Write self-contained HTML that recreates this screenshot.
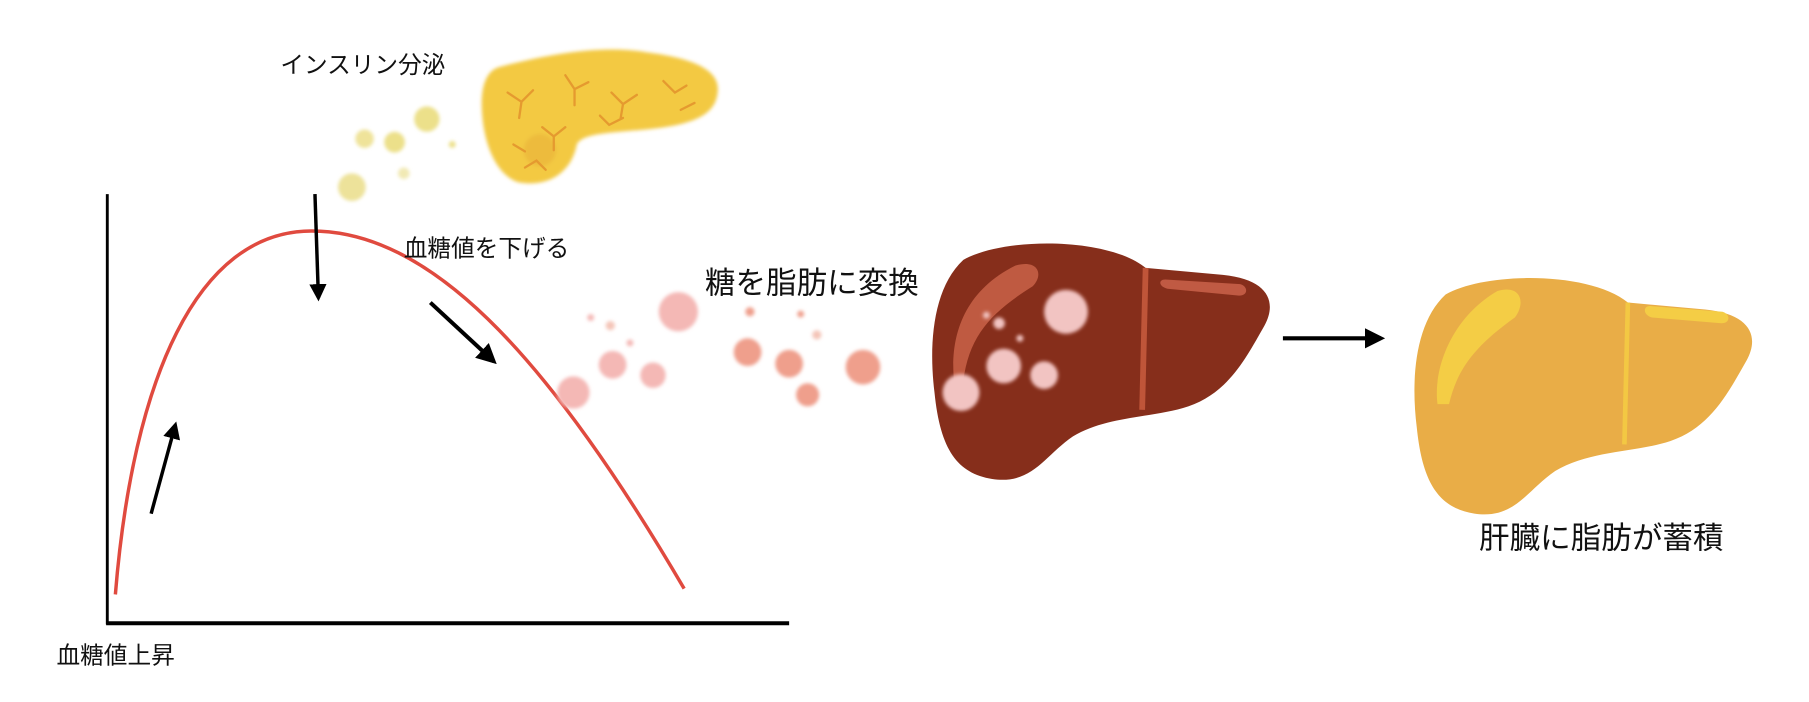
<!DOCTYPE html>
<html><head><meta charset="utf-8"><style>
html,body{margin:0;padding:0;background:#fff;width:1809px;height:702px;overflow:hidden}
svg text{font-family:"Liberation Sans","Noto Sans CJK JP",sans-serif;fill:#111}
</style></head><body>
<svg width="1809" height="702" viewBox="0 0 1568 608" xmlns="http://www.w3.org/2000/svg">
<defs>
<marker id="ah" viewBox="0 0 10 10" refX="8" refY="5" markerWidth="5" markerHeight="5" orient="auto"><path d="M0,0 L10,5 L0,10 z" fill="#000"/></marker>
<filter id="blur"><feGaussianBlur stdDeviation="1.5"/></filter>
</defs>
<rect width="1568" height="608" fill="#fff"/>
<line x1="93" y1="168" x2="93" y2="541" stroke="#000" stroke-width="2.5"/>
<line x1="92" y1="540" x2="684" y2="540" stroke="#000" stroke-width="3.5"/>
<path d="M100,515 C115,330 170,200 270,200 C370,200 470,300 593,510" fill="none" stroke="#e04a3f" stroke-width="3"/>
<line x1="131" y1="445" x2="152" y2="368" stroke="#000" stroke-width="3" marker-end="url(#ah)"/>
<line x1="273" y1="168" x2="276" y2="258" stroke="#000" stroke-width="3" marker-end="url(#ah)"/>
<line x1="373" y1="262" x2="428" y2="313" stroke="#000" stroke-width="3.5" marker-end="url(#ah)"/>
<line x1="1112" y1="293" x2="1197" y2="293" stroke="#000" stroke-width="3.5" marker-end="url(#ah)"/>
<text x="243" y="63" font-size="20.5">インスリン分泌</text>
<text x="350" y="222" font-size="20.5">血糖値を下げる</text>
<text x="611" y="254" font-size="26.5">糖を脂肪に変換</text>
<text x="49" y="575" font-size="20.5">血糖値上昇</text>
<text x="1282" y="475" font-size="26.5">肝臓に脂肪が蓄積</text>
<g filter="url(#blur)">
<path d="M432,58 C470,48 520,38 560,45 C600,50 625,60 622,80 C620,100 600,108 560,112 C530,115 505,115 500,125 C495,150 475,162 450,158 C430,152 420,125 418,100 C416,78 420,62 432,58 Z" fill="#f3c943"/>
<circle cx="468" cy="130" r="14" fill="#e9b33c" opacity="0.6"/>
<circle cx="370" cy="103" r="11" fill="#ece08a"/>
<circle cx="342" cy="123" r="9" fill="#ece08a"/>
<circle cx="316" cy="120" r="8" fill="#efe39a"/>
<circle cx="305" cy="162" r="12" fill="#ede29a"/>
<circle cx="350" cy="150" r="5" fill="#f1e9b4"/>
<circle cx="392" cy="125" r="3" fill="#ece08a"/>
</g>
<g stroke="#e59a2f" stroke-width="2" fill="none" stroke-linecap="round">
<path d="M440,80 l12,8 l10,-10 M452,88 l-2,14"/><path d="M490,65 l8,12 l12,-6 M498,77 l0,14"/>
<path d="M530,80 l10,10 l12,-8 M540,90 l-2,12"/><path d="M575,70 l10,10 l10,-6"/>
<path d="M470,110 l10,8 l10,-8 M480,118 l0,12"/><path d="M520,100 l8,8 l12,-6"/>
<path d="M445,125 l10,6 M455,145 l10,-6 l8,8"/><path d="M590,95 l12,-6"/>
</g>
<g filter="url(#blur)" fill="#f4b8b5">
<circle cx="588" cy="270" r="17"/><circle cx="497" cy="340" r="14"/><circle cx="531" cy="316" r="12"/>
<circle cx="566" cy="325" r="11"/><circle cx="512" cy="275" r="3"/><circle cx="546" cy="297" r="3"/>
<circle cx="648" cy="305" r="12" fill="#ef9f8c"/><circle cx="684" cy="315" r="12" fill="#ef9f8c"/>
<circle cx="700" cy="342" r="10" fill="#ef9f8c"/><circle cx="748" cy="318" r="15" fill="#ef9f8c"/>
<circle cx="650" cy="270" r="4" fill="#ef9f8c"/><circle cx="694" cy="272" r="3" fill="#ef9f8c"/>
<circle cx="708" cy="290" r="4" fill="#f4c5b8"/><circle cx="529" cy="282" r="4" fill="#f4c5b8"/>
</g>
<g>
<path d="M835,225 C870,205 960,205 993,232 L1060,238 C1100,242 1107,262 1096,282 C1080,310 1065,340 1030,352 C1000,362 960,360 930,378 C905,395 895,420 860,415 C830,410 815,390 810,340 C805,300 808,250 835,225 Z" fill="#862e1b"/>
<path d="M993,232 L990,355" stroke="#bf5539" stroke-width="5"/>
<path d="M880,230 C900,224 905,238 895,248 C860,270 840,290 835,330 L828,338 C822,300 830,255 880,230 Z" fill="#bf5a41"/>
<path d="M1010,242 L1075,246 C1082,248 1082,256 1074,256 L1012,250 C1004,248 1004,242 1010,242 Z" fill="#c05a43"/>
<g filter="url(#blur)" fill="#f2c4c2">
<circle cx="924" cy="270" r="19"/><circle cx="870" cy="317" r="15"/><circle cx="905" cy="325" r="12"/>
<circle cx="833" cy="340" r="16"/><circle cx="866" cy="280" r="5"/><circle cx="855" cy="273" r="3"/><circle cx="884" cy="293" r="3"/>
</g>
</g>
<g transform="translate(418,30)">
<path d="M835,225 C870,205 960,205 993,232 L1060,238 C1100,242 1107,262 1096,282 C1080,310 1065,340 1030,352 C1000,362 960,360 930,378 C905,395 895,420 860,415 C830,410 815,390 810,340 C805,300 808,250 835,225 Z" fill="#e9ad47"/>
<path d="M993,232 L990,355" stroke="#f3c843" stroke-width="4"/>
<path d="M880,222 C900,216 905,232 895,245 C860,270 845,290 838,320 L828,320 C824,290 840,245 880,222 Z" fill="#f4cd45"/>
<path d="M1012,235 L1075,240 C1082,242 1082,250 1074,250 L1014,245 C1006,243 1006,235 1012,235 Z" fill="#f4cd45"/>
</g>
</svg>
</body></html>
